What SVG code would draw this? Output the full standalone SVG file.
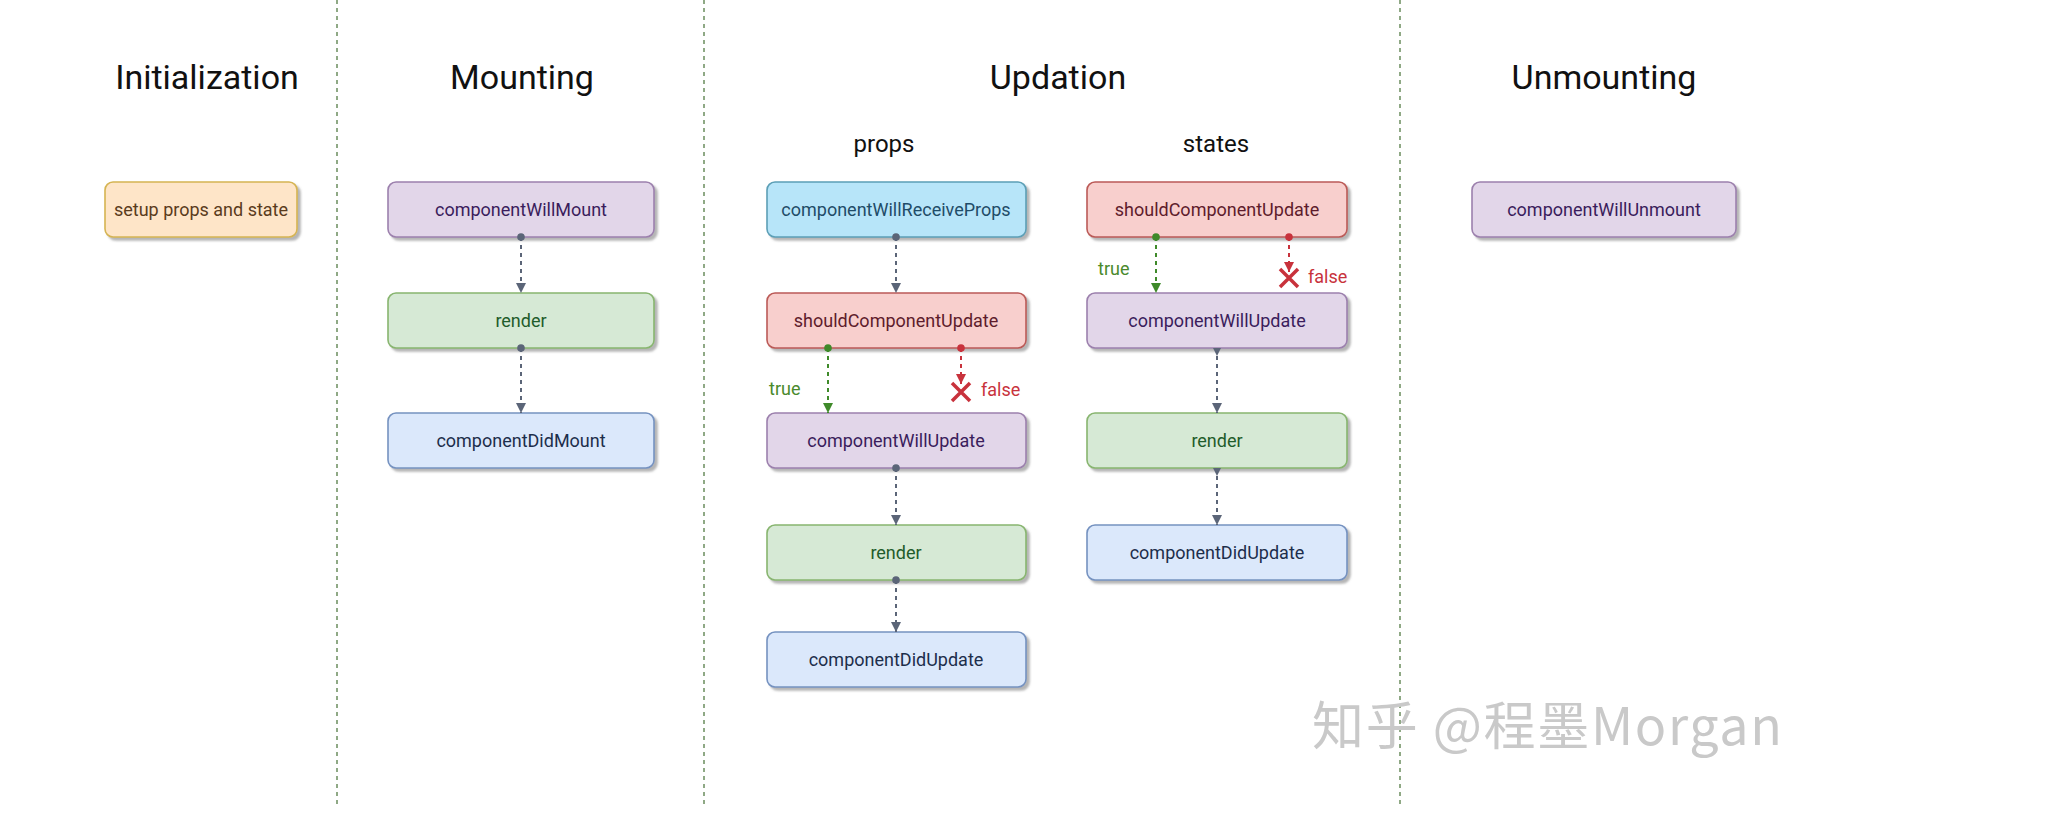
<svg xmlns="http://www.w3.org/2000/svg" width="2063" height="822" viewBox="0 0 2063 822">
<defs>
<style>
.title{font-family:Roboto,"Liberation Sans",sans-serif;font-size:34px;fill:#111;text-anchor:middle}
.sub{font-family:Roboto,"Liberation Sans",sans-serif;font-size:24px;fill:#111;text-anchor:middle}
.lbl{font-family:Roboto,"Liberation Sans",sans-serif;font-size:18px;text-anchor:middle}
.cond{font-family:Roboto,"Liberation Sans",sans-serif;font-size:18px}
.box{stroke-width:1.6;filter:url(#sh)}
.purple{fill:#e2d6e9;stroke:#9c80ad}
.green{fill:#d6e9d5;stroke:#88b56f}
.blue{fill:#dbe8fb;stroke:#7592c0}
.red{fill:#f8cfcd;stroke:#bb5a57}
.cyan{fill:#b7e5f9;stroke:#5c9fb6}
.orange{fill:#fee5c8;stroke:#d5b452}
.tp{fill:#3a1d5c}.tg{fill:#1f5c2b}.tb{fill:#1d2e4b}.tr{fill:#5e1c2c}.tc{fill:#1f4c68}.to{fill:#5a3b1c}
.div{stroke:#8fa985;stroke-width:2;stroke-dasharray:4 4;fill:none}
.c{fill:none;stroke-width:2;stroke-dasharray:4 4}
.cg{stroke:#5b6578}.cgr{stroke:#3f8a2a}.crd{stroke:#c8323c}
.x{stroke:#c8323c;stroke-width:3.5;fill:none}
</style>
<filter id="sh" x="-10%" y="-20%" width="125%" height="150%">
<feDropShadow dx="3" dy="3" stdDeviation="1.3" flood-color="#6a6a6a" flood-opacity="0.5"/>
</filter>
<marker id="aG" viewBox="0 0 10 10" refX="10" refY="5" markerWidth="10" markerHeight="10" markerUnits="userSpaceOnUse" orient="auto"><path d="M0,0L10,5L0,10z" fill="#5b6578"/></marker>
<marker id="aGr" viewBox="0 0 10 10" refX="10" refY="5" markerWidth="10" markerHeight="10" markerUnits="userSpaceOnUse" orient="auto"><path d="M0,0L10,5L0,10z" fill="#3f8a2a"/></marker>
<marker id="aR" viewBox="0 0 10 10" refX="10" refY="5" markerWidth="10" markerHeight="10" markerUnits="userSpaceOnUse" orient="auto"><path d="M0,0L10,5L0,10z" fill="#c8323c"/></marker>
<marker id="dG" viewBox="0 0 8 8" refX="4" refY="4" markerWidth="8" markerHeight="8" markerUnits="userSpaceOnUse"><circle cx="4" cy="4" r="3.8" fill="#5b6578"/></marker>
<marker id="dGr" viewBox="0 0 8 8" refX="4" refY="4" markerWidth="8" markerHeight="8" markerUnits="userSpaceOnUse"><circle cx="4" cy="4" r="3.8" fill="#3f8a2a"/></marker>
<marker id="dR" viewBox="0 0 8 8" refX="4" refY="4" markerWidth="8" markerHeight="8" markerUnits="userSpaceOnUse"><circle cx="4" cy="4" r="3.8" fill="#c8323c"/></marker>
<marker id="tG" viewBox="0 0 8 8" refX="0" refY="4" markerWidth="8" markerHeight="8" markerUnits="userSpaceOnUse" orient="auto"><path d="M0,0L8,4L0,8z" fill="#5b6578"/></marker>
</defs>
<rect width="2063" height="822" fill="#ffffff"/>

<g id="dividers">
<line class="div" x1="337" y1="0" x2="337" y2="807"/>
<line class="div" x1="704" y1="0" x2="704" y2="807"/>
<line class="div" x1="1400" y1="0" x2="1400" y2="807"/>
</g>

<g id="titles">
<text class="title" x="207" y="89">Initialization</text>
<text class="title" x="522" y="89">Mounting</text>
<text class="title" x="1058" y="89">Updation</text>
<text class="title" x="1604" y="89">Unmounting</text>
<text class="sub" x="884" y="152">props</text>
<text class="sub" x="1216" y="152">states</text>
</g>

<g id="setup"><rect class="box orange" x="105" y="182" width="192" height="55" rx="8"/><text class="lbl to" x="201" y="216">setup props and state</text></g>

<g id="m-willMount"><rect class="box purple" x="388" y="182" width="266" height="55" rx="8"/><text class="lbl tp" x="521" y="216">componentWillMount</text></g>
<g id="m-render"><rect class="box green" x="388" y="293" width="266" height="55" rx="8"/><text class="lbl tg" x="521" y="327">render</text></g>
<g id="m-didMount"><rect class="box blue" x="388" y="413" width="266" height="55" rx="8"/><text class="lbl tb" x="521" y="447">componentDidMount</text></g>

<g id="p-receiveProps"><rect class="box cyan" x="767" y="182" width="259" height="55" rx="8"/><text class="lbl tc" x="896" y="216">componentWillReceiveProps</text></g>
<g id="p-shouldUpdate"><rect class="box red" x="767" y="293" width="259" height="55" rx="8"/><text class="lbl tr" x="896" y="327">shouldComponentUpdate</text></g>
<g id="p-willUpdate"><rect class="box purple" x="767" y="413" width="259" height="55" rx="8"/><text class="lbl tp" x="896" y="447">componentWillUpdate</text></g>
<g id="p-render"><rect class="box green" x="767" y="525" width="259" height="55" rx="8"/><text class="lbl tg" x="896" y="559">render</text></g>
<g id="p-didUpdate"><rect class="box blue" x="767" y="632" width="259" height="55" rx="8"/><text class="lbl tb" x="896" y="666">componentDidUpdate</text></g>

<g id="s-shouldUpdate"><rect class="box red" x="1087" y="182" width="260" height="55" rx="8"/><text class="lbl tr" x="1217" y="216">shouldComponentUpdate</text></g>
<g id="s-willUpdate"><rect class="box purple" x="1087" y="293" width="260" height="55" rx="8"/><text class="lbl tp" x="1217" y="327">componentWillUpdate</text></g>
<g id="s-render"><rect class="box green" x="1087" y="413" width="260" height="55" rx="8"/><text class="lbl tg" x="1217" y="447">render</text></g>
<g id="s-didUpdate"><rect class="box blue" x="1087" y="525" width="260" height="55" rx="8"/><text class="lbl tb" x="1217" y="559">componentDidUpdate</text></g>

<g id="u-willUnmount"><rect class="box purple" x="1472" y="182" width="264" height="55" rx="8"/><text class="lbl tp" x="1604" y="216">componentWillUnmount</text></g>

<g id="connectors">
<path class="c cg" d="M521,237V293" marker-start="url(#dG)" marker-end="url(#aG)"/>
<path class="c cg" d="M521,348V413" marker-start="url(#dG)" marker-end="url(#aG)"/>
<path class="c cg" d="M896,237V293" marker-start="url(#dG)" marker-end="url(#aG)"/>
<path class="c cgr" d="M828,348V413" marker-start="url(#dGr)" marker-end="url(#aGr)"/>
<path class="c crd" d="M961,348V384" marker-start="url(#dR)" marker-end="url(#aR)"/>
<path class="c cg" d="M896,468V525" marker-start="url(#dG)" marker-end="url(#aG)"/>
<path class="c cg" d="M896,580V632" marker-start="url(#dG)" marker-end="url(#aG)"/>
<path class="c cgr" d="M1156,237V293" marker-start="url(#dGr)" marker-end="url(#aGr)"/>
<path class="c crd" d="M1289,237V272" marker-start="url(#dR)" marker-end="url(#aR)"/>
<path class="c cg" d="M1217,348V413" marker-start="url(#tG)" marker-end="url(#aG)"/>
<path class="c cg" d="M1217,468V525" marker-start="url(#tG)" marker-end="url(#aG)"/>
</g>

<g id="conditions">
<text class="cond" x="769" y="395" fill="#4a8a2c">true</text>
<path class="x" d="M952,383L970,401M970,383L952,401"/>
<text class="cond" x="981" y="396" fill="#c8323c">false</text>
<text class="cond" x="1098" y="275" fill="#4a8a2c">true</text>
<path class="x" d="M1280,269L1298,287M1298,269L1280,287"/>
<text class="cond" x="1308" y="283" fill="#c8323c">false</text>
</g>

<text id="watermark" x="1312" y="745" font-family="'Noto Sans CJK SC','Noto Sans',sans-serif" font-size="52" fill="#c9c9c9" textLength="470" lengthAdjust="spacing">知乎 @程墨Morgan</text>
</svg>
